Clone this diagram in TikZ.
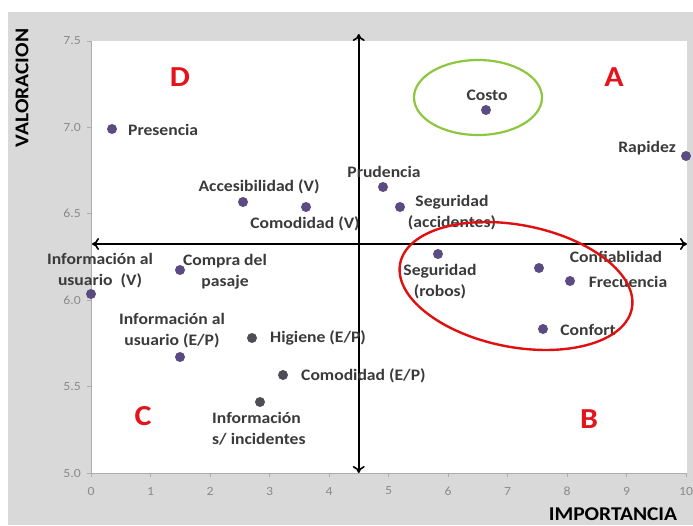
\documentclass[tikz,border=0pt]{standalone}
\usepackage{fontspec}
\setmainfont[FakeStretch=1.1]{Carlito}
\usetikzlibrary{arrows.meta}
\definecolor{bggray}{HTML}{D9D9D9}
\definecolor{dotpurple}{HTML}{5B4B82}
\definecolor{dotgray}{HTML}{4E4E56}
\definecolor{labelgray}{HTML}{3A3A3A}
\definecolor{tickgray}{HTML}{8A8A8A}
\definecolor{quadred}{HTML}{E3141B}
\definecolor{ovalgreen}{HTML}{8DC63F}
\definecolor{ovalred}{HTML}{E01010}
\begin{document}
\begin{tikzpicture}[x=1pt,y=-1pt,
  dot/.style={circle,fill=dotpurple,inner sep=0pt,minimum size=10pt},
  gdot/.style={circle,fill=dotgray,inner sep=0pt,minimum size=10pt},
  lbl/.style={text=labelgray,font=\fontsize{16}{21}\selectfont\bfseries,inner sep=0pt,align=center},
  quad/.style={text=quadred,font=\fontsize{29}{30}\selectfont\bfseries,inner sep=0pt},
  ticklbl/.style={text=tickgray,font=\fontsize{12.5}{13}\selectfont,inner sep=0pt},
  axtitle/.style={text=black,font=\fontsize{19.5}{20}\selectfont\bfseries,inner sep=0pt},
  axarrow/.style={line width=1.6pt,black,{To[length=7pt,width=12pt]}-{To[length=7pt,width=12pt]}},
  frame/.style={line width=0.8pt,draw=tickgray!70}]
\useasboundingbox (0,0) rectangle (693,525);
\fill[white] (0,0) rectangle (693,525);
\fill[bggray] (8,12) rectangle (693,525);
\fill[white] (91,41) rectangle (687,473);
% frame and ticks
\draw[frame] (91,41) -- (91,473) -- (687,473);
\foreach \i in {0,...,10} {
  \draw[frame] ({91+59.5*\i},473) -- ({91+59.5*\i},477);
  \node[ticklbl] (xt\i) at ({91+59.5*\i},491) {\i};
}
\foreach \v/\py in {7.5/41,7.0/127.4,6.5/213.8,6.0/300.2,5.5/386.6,5.0/473} {
  \draw[frame] (87,\py) -- (91,\py);
  \node[ticklbl,anchor=east] at (81,\py) {\v};
}
% axis titles
\node[axtitle,rotate=90] (ytitle) at (22,88) {VALORACION};
\node[axtitle] (xtitle) at (613,514) {IMPORTANCIA};
% axes arrows
\coordinate (vtop) at (358.75,34);
\coordinate (vbot) at (358.75,473);
\coordinate (hleft) at (92,244);
\coordinate (hright) at (687,244);
\draw[axarrow] (vbot) -- (vtop);
\draw[axarrow] (hleft) -- (hright);
% quadrant letters
\node[quad] (qD) at (180,77) {D};
\node[quad] (qA) at (614,77) {A};
\node[quad] (qC) at (143,416) {C};
\node[quad] (qB) at (589,419) {B};
% dots
\node[dot] (p1) at (112,129) {};
\node[dot] (p2) at (243,202) {};
\node[dot] (p3) at (306,207) {};
\node[dot] (p4) at (383,187) {};
\node[dot] (p5) at (400,207) {};
\node[dot] (p6) at (486,110) {};
\node[dot] (p7) at (686,156) {};
\node[dot] (p8) at (438,254) {};
\node[dot] (p9) at (539,268) {};
\node[dot] (p10) at (570,281) {};
\node[dot] (p11) at (543,329) {};
\node[dot] (p12) at (91,294) {};
\node[dot] (p13) at (180,270) {};
\node[dot] (p14) at (180,357) {};
\node[gdot] (p15) at (252,338) {};
\node[gdot] (p16) at (283,375) {};
\node[gdot] (p17) at (260,402) {};
% labels
\node[lbl,anchor=west] (l1) at (128,130) {Presencia};
\node[lbl] (l2) at (259,187) {Accesibilidad (V)};
\node[lbl] (l3) at (305,224) {Comodidad (V)};
\node[lbl] (l4) at (384,172) {Prudencia};
\node[lbl] (l5) at (452,213) {Seguridad\\(accidentes)};
\node[lbl] (l6) at (487,95) {Costo};
\node[lbl] (l7) at (647,148) {Rapidez};
\node[lbl] (l8) at (440,282) {Seguridad\\(robos)};
\node[lbl] (l9) at (616,257) {Confiablidad};
\node[lbl] (l10) at (628,282) {Frecuencia};
\node[lbl] (l11) at (588,330) {Confort};
\node[lbl] (l12) at (100,271) {Información al\\usuario\ \ (V)};
\node[lbl] (l13) at (225,272) {Compra del\\pasaje};
\node[lbl] (l14) at (172,331) {Información al\\usuario (E/P)};
\node[lbl,anchor=west] (l15) at (270,338) {Higiene (E/P)};
\node[lbl,anchor=west] (l16) at (301,376) {Comodidad (E/P)};
\node[lbl,align=left,anchor=west] (l17) at (212,429) {Información\\s/ incidentes};
% ovals
\draw[ovalgreen,line width=2.2pt] (478,97.5) ellipse [x radius=64, y radius=37.5];
\draw[ovalred,line width=2.4pt,rotate around={-11:(516,286)}] (516,286) ellipse [x radius=118, y radius=61];
\end{tikzpicture}
\end{document}
